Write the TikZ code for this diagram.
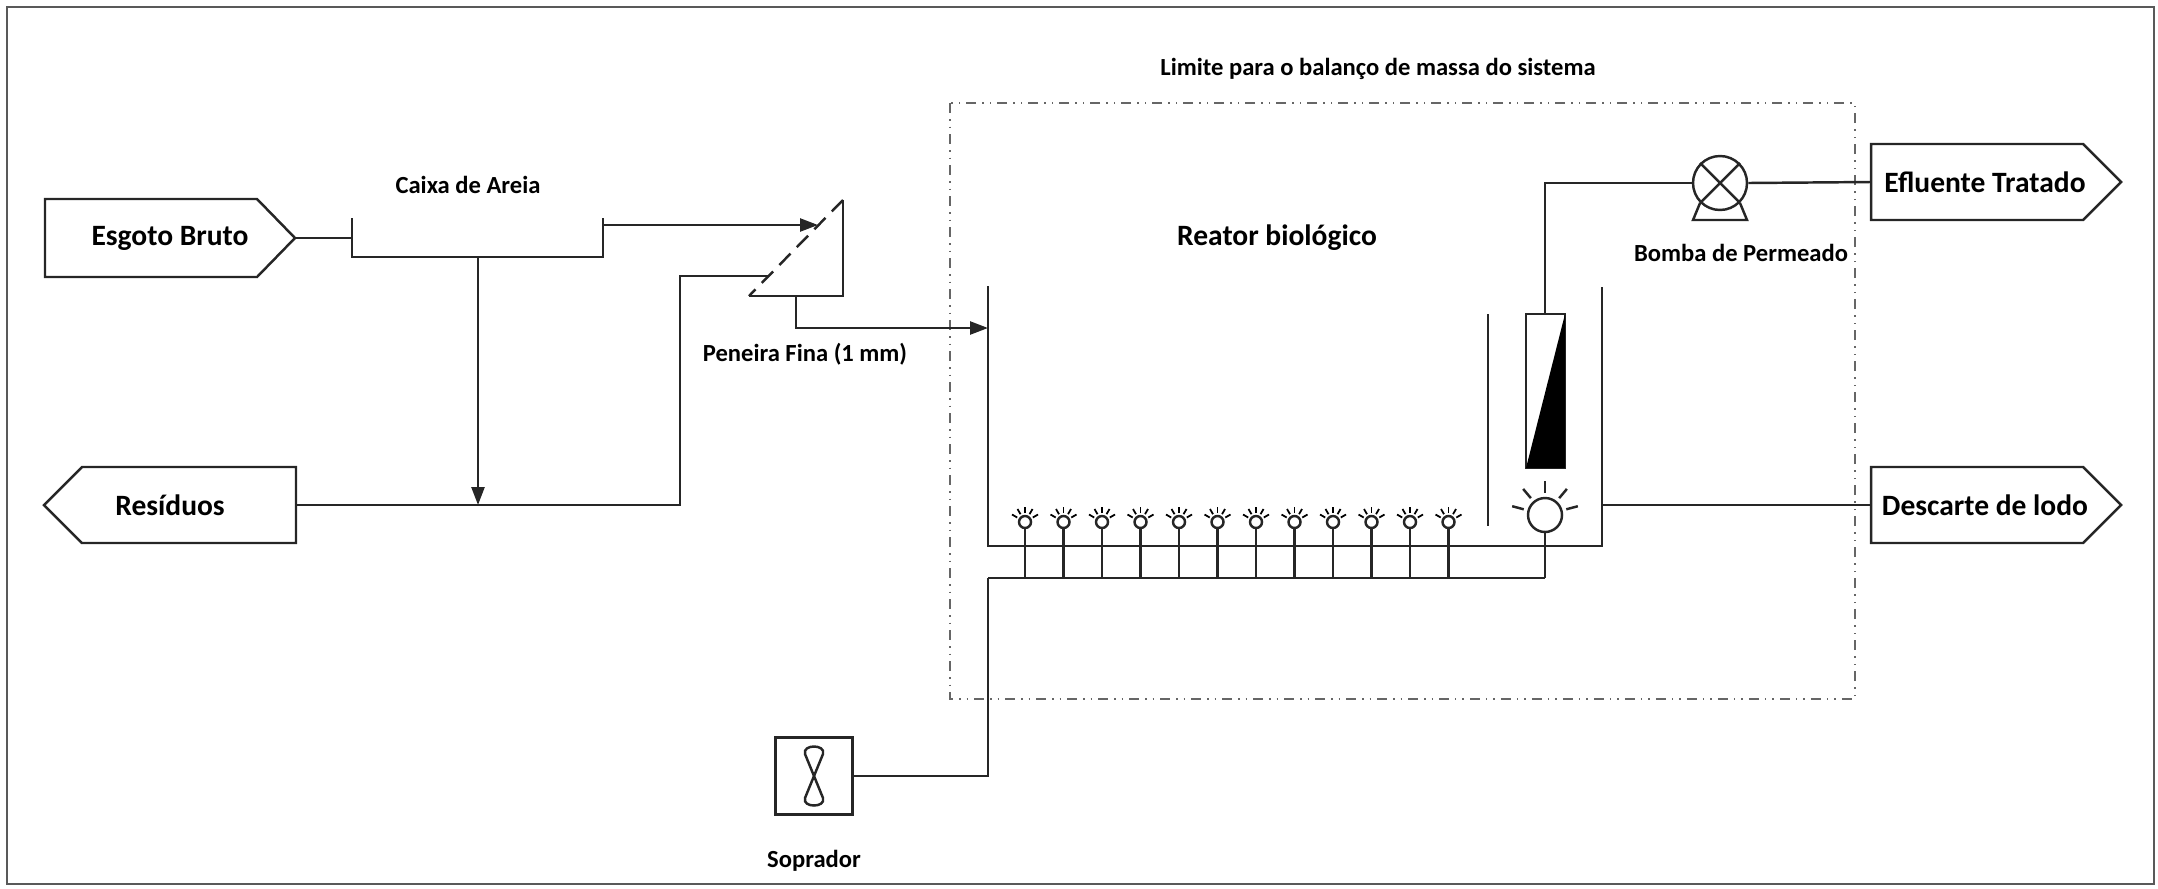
\documentclass[tikz,border=0pt]{standalone}
\usepackage{fontspec}
\setmainfont{Carlito}
\usetikzlibrary{arrows.meta,positioning}

\tikzset{
	pipe/.style={line width=0.7pt, draw=black!85},
	flow/.style={pipe, -{Triangle[length=1.8mm,width=1.3mm]}},
	biglbl/.style={font=\fontsize{8.4}{10}\selectfont\bfseries},
	smalllbl/.style={font=\fontsize{7}{8.5}\selectfont\bfseries},
	limit/.style={draw=black!60, line width=0.6pt, dash pattern=on 1mm off 0.6mm on 0.15mm off 0.6mm on 0.15mm off 0.6mm},
}

\begin{document}
\begin{tikzpicture}[x=0.1mm,y=-0.1mm]
		\useasboundingbox (0,0) rectangle (2158,888);
		\draw[draw=black!65, line width=0.8pt] (7,7) rectangle (2154,884);
		
		% limite do sistema
		\draw[limit] (950,103) rectangle (1855,699);
		\node[smalllbl] (titlelbl) at (1378,69) {Limite para o balanço de massa do sistema};
		
		% entradas e saidas
		\draw[pipe] (45,199) -- (257,199) -- (295,238) -- (257,277) -- (45,277) -- cycle;
		\node[biglbl] (esgoto) at (170,238) {Esgoto Bruto};
		\coordinate (esgotoOut) at (295,238);
		\draw[pipe] (296,467) -- (82,467) -- (44,505) -- (82,543) -- (296,543) -- cycle;
		\node[biglbl] (residuos) at (170,505) {Resíduos};
		\coordinate (residuosIn) at (296,505);
		\draw[pipe] (1871,144) -- (2083,144) -- (2121,182) -- (2083,220) -- (1871,220) -- cycle;
		\node[biglbl] (efluente) at (1985,182) {Efluente Tratado};
		\coordinate (efluenteIn) at (1871,182);
		\draw[pipe] (1871,467) -- (2083,467) -- (2121,505) -- (2083,543) -- (1871,543) -- cycle;
		\node[biglbl] (descarte) at (1985,505) {Descarte de lodo};
		\coordinate (descarteIn) at (1871,505);
		
		% caixa de areia
		\draw[pipe] (352,218) -- (352,257) -- (603,257) -- (603,218);
		\node[smalllbl] (caixalbl) at (468,185) {Caixa de Areia};
		\coordinate (caixaIn) at (352,238);
		\coordinate (caixaOut) at (603,225);
		\coordinate (caixaDown) at (478,257);
		\draw[pipe] (esgotoOut) -- (caixaIn);
		
		% peneira
		\draw[pipe] (843,200) -- (843,296) -- (749,296);
		\draw[pipe, dash pattern=on 1.6mm off 0.9mm] (843,200) -- (749,296);
		\node[smalllbl] (peneiralbl) at (805,354) {Peneira Fina (1 mm)};
		\coordinate (peneiraIn) at (818,225);
		\coordinate (peneiraRej) at (769,276);
		\coordinate (peneiraOut) at (796,296);
		\draw[flow] (caixaOut) -- (peneiraIn);
		\draw[flow] (caixaDown) -- (478,505);
		\draw[pipe] (peneiraRej) -- (680,276) -- (680,505) -- (residuosIn);
		
		% reator
		\draw[pipe] (988,286) -- (988,546) -- (1602,546) -- (1602,287);
		\draw[pipe] (1488,314) -- (1488,526);
		\node[biglbl] (reatorlbl) at (1277,238) {Reator biológico};
		\coordinate (reatorIn) at (988,328);
		\draw[flow] (peneiraOut) -- (796,328) -- (reatorIn);
		\draw[pipe] (1602,505) -- (descarteIn);
		
		% membrana
		\draw[pipe] (1526,314) rectangle (1565,468);
		\fill[black] (1565,314) -- (1565,468) -- (1526,468) -- cycle;
		\coordinate (membTop) at (1545,314);
		
		% bomba de permeado
		\node[circle, draw=black!85, line width=0.7pt, minimum size=5.4mm, inner sep=0] (bomba) at (1720,183) {};
		\draw[pipe] (bomba.north west) -- (bomba.south east);
		\draw[pipe] (bomba.north east) -- (bomba.south west);
		\draw[pipe] (bomba.-135) -- (1693,220) -- (1747,220) -- (bomba.-45);
		\node[smalllbl] (bombalbl) at (1741,253) {Bomba de Permeado};
		\draw[pipe] (membTop) -- (1545,183) -- (bomba.west);
		\draw[pipe] (bomba.east) -- (efluenteIn);
		
		% difusores
		\draw[pipe] (988,578) -- (1545,578);
		\foreach \i in {0,...,11}{
			\draw[pipe] (1025+38.5*\i,522) circle[radius=6];
			\draw[pipe] (1025+38.5*\i,528) -- (1025+38.5*\i,578);
			\foreach \a in {-30,-60,-90,-120,-150}
				\draw[line width=0.5pt] (1025+38.5*\i,522) ++(\a:9) -- ++(\a:6);
		}
		\draw[pipe] (1545,515) circle[radius=17];
		\draw[pipe] (1545,532) -- (1545,578);
		\foreach \a in {-15,-50,-90,-130,-165}
			\draw[pipe] (1545,515) ++(\a:22) -- ++(\a:12);
		
		% soprador
		\node[draw=black!85, line width=0.7pt, minimum width=7.7mm, minimum height=7.7mm, inner sep=0] (soprador) at (814,776) {};
		\draw[pipe] (814,776) -- (805,754) .. controls (802,744) and (826,744) .. (823,754) -- cycle;
		\draw[pipe] (814,776) -- (805,798) .. controls (802,808) and (826,808) .. (823,798) -- cycle;
		\node[smalllbl, below=2.2mm of soprador] (sopradorlbl) {Soprador};
		\draw[pipe] (soprador.east) -- (988,776) -- (988,578);
	\end{tikzpicture}
\end{document}
